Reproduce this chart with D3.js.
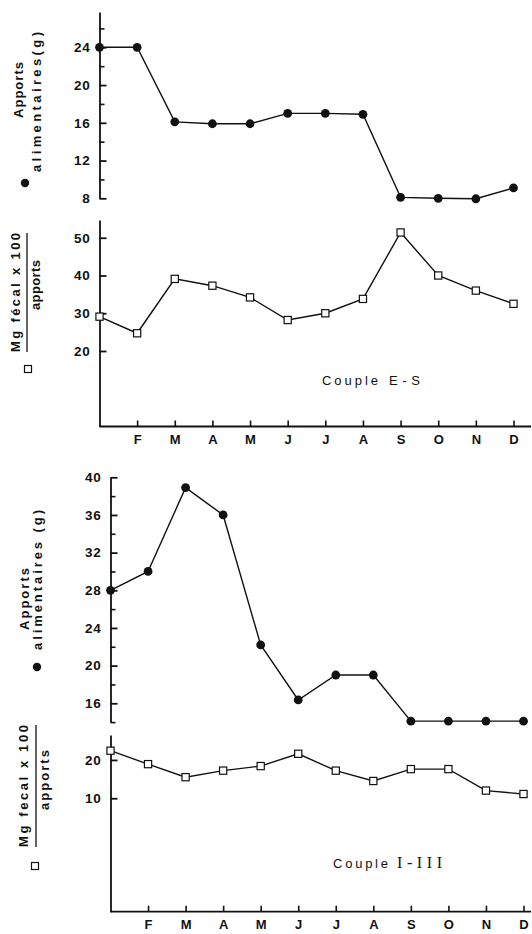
<!DOCTYPE html>
<html>
<head>
<meta charset="utf-8">
<script src="https://cdn.jsdelivr.net/npm/d3@7"></script>
<style>
  body { margin: 0; background: #fff; }
  svg { display: block; }
  text { font-family: "Liberation Sans", Arial, sans-serif; font-weight: bold; fill: #111; }
</style>
</head>
<body>
<svg id="chart" width="532" height="934"></svg>
<script>
const months = ["J", "F", "M", "A", "M", "J", "J", "A", "S", "O", "N", "D"];

// Couple E-S
const apportsES = [24, 24, 16.1, 15.9, 15.9, 17, 17, 16.9, 8.1, 8.0, 7.95, 9.1];
const mgES = [29.1, 24.7, 39.1, 37.3, 34.2, 28.2, 30, 33.8, 51.4, 40, 36, 32.5];

// Couple I-III
const apportsIII = [28.0, 30.0, 38.9, 36, 22.2, 16.35, 19.0, 19.0, 14.1, 14.1, 14.1, 14.1];
const mgIII = [22.4, 18.9, 15.5, 17.2, 18.4, 21.6, 17.2, 14.5, 17.6, 17.6, 12, 11.1];

const apportsTicksES = [8, 12, 16, 20, 24];
const apportsMinorES = [10, 14, 18, 22, 26];
const mgTicksES = [20, 30, 40, 50];
const apportsTicksIII = [16, 20, 24, 28, 32, 36, 40];
const apportsMinorIII = [14, 18, 22, 26, 30, 34, 38];
const mgTicksIII = [10, 20];

const svg = d3.select("#chart");

function yAxis(g, y, x0, major, minor) {
  g.append("g")
    .attr("transform", `translate(${x0},0)`)
    .call(d3.axisLeft(y).tickValues(major).tickSizeInner(-7).tickSizeOuter(0).tickPadding(9))
    .call((a) => a.selectAll("text").attr("font-size", 13.5).attr("font-family", null).attr("letter-spacing", 0.8))
    .call((a) => a.selectAll("path, line").attr("stroke", "#111").attr("stroke-width", 1.8));
  if (minor) {
    g.append("g")
      .attr("transform", `translate(${x0},0)`)
      .call(d3.axisLeft(y).tickValues(minor).tickSizeInner(-5).tickSizeOuter(0).tickFormat(""))
      .call((a) => a.select(".domain").remove())
      .call((a) => a.selectAll("line").attr("stroke", "#111").attr("stroke-width", 1.6));
  }
}

function series(g, x, y, values, shape) {
  g.append("path")
    .datum(values)
    .attr("fill", "none")
    .attr("stroke", "#111")
    .attr("stroke-width", 1.4)
    .attr("d", d3.line().x((d, i) => x(i)).y((d) => y(d)));

  if (shape === "circle") {
    g.selectAll(".dot")
      .data(values)
      .enter()
      .append("circle")
      .attr("cx", (d, i) => x(i))
      .attr("cy", (d) => y(d))
      .attr("r", 4.4)
      .attr("fill", "#111");
  } else {
    g.selectAll(".sq")
      .data(values)
      .enter()
      .append("rect")
      .attr("x", (d, i) => x(i) - 3.6)
      .attr("y", (d) => y(d) - 3.6)
      .attr("width", 7.2)
      .attr("height", 7.2)
      .attr("fill", "#fff")
      .attr("stroke", "#111")
      .attr("stroke-width", 1.2);
  }
}

function xAxis(g, x, yPos) {
  g.append("g")
    .attr("transform", `translate(0,${yPos})`)
    .call(d3.axisBottom(x).tickValues(d3.range(1, 12)).tickFormat((i) => months[i])
      .tickSizeInner(-6).tickSizeOuter(0).tickPadding(8))
    .call((a) => a.select(".domain").remove())
    .call((a) => a.selectAll("line").attr("stroke", "#111").attr("stroke-width", 1.6))
    .call((a) => a.selectAll("text").attr("font-size", 13).attr("font-family", null));
  g.append("line")
    .attr("x1", x(0)).attr("x2", 531)
    .attr("y1", yPos).attr("y2", yPos)
    .attr("stroke", "#111").attr("stroke-width", 1.8);
}

function vLabel(g, txt, x, y, len, size) {
  g.append("text")
    .attr("transform", `translate(${x},${y}) rotate(-90)`)
    .attr("text-anchor", "middle")
    .attr("font-size", size || 13)
    .attr("textLength", len)
    .attr("lengthAdjust", "spacing")
    .text(txt);
}

function drawCouple(cfg) {
  const g = svg.append("g");
  const x = d3.scaleLinear().domain([0, 11]).range([cfg.x0, cfg.x11]);
  const yA = d3.scaleLinear().domain(cfg.aDomain).range(cfg.aRange);
  const yM = d3.scaleLinear().domain(cfg.mDomain).range(cfg.mRange);

  yAxis(g, yA, cfg.x0, cfg.aTicks, cfg.aMinor);
  yAxis(g, yM, cfg.x0, cfg.mTicks, null);
  xAxis(g, x, cfg.mRange[0]);

  series(g, x, yA, cfg.apports, "circle");
  series(g, x, yM, cfg.mg, "square");

  // left titles
  const L = cfg.labels;
  vLabel(g, "Apports", L.ap[0], L.ap[1], L.ap[2]);
  vLabel(g, cfg.alimText, L.al[0], L.al[1], L.al[2]);
  g.append("circle").attr("cx", L.dot[0]).attr("cy", L.dot[1]).attr("r", 4.2).attr("fill", "#111");

  vLabel(g, cfg.mgText, L.mg[0], L.mg[1], L.mg[2]);
  g.append("line")
    .attr("x1", L.bar[0]).attr("x2", L.bar[0])
    .attr("y1", L.bar[1]).attr("y2", L.bar[2])
    .attr("stroke", "#111").attr("stroke-width", 1.3);
  vLabel(g, "apports", L.apb[0], L.apb[1], L.apb[2]);
  g.append("rect")
    .attr("x", L.sq[0] - 3.5).attr("y", L.sq[1] - 3.5)
    .attr("width", 7).attr("height", 7)
    .attr("fill", "#fff").attr("stroke", "#111").attr("stroke-width", 1.2);

  const t = g.append("text")
    .attr("x", cfg.title[0]).attr("y", cfg.title[1])
    .attr("font-size", 13)
    .style("font-weight", "normal");
  t.append("tspan").attr("textLength", cfg.title[2]).attr("lengthAdjust", "spacing").text("Couple");
  t.append("tspan")
    .attr("x", cfg.title[3])
    .style("font-family", cfg.titleFont)
    .attr("font-size", cfg.titleSize)
    .attr("textLength", cfg.title[4]).attr("lengthAdjust", "spacing")
    .text(cfg.titleName);
}

drawCouple({
  x0: 99.5, x11: 513.5,
  aDomain: [8, 27.74], aRange: [198.3, 12],
  mDomain: [0, 54.7], mRange: [426.5, 220],
  aTicks: apportsTicksES, aMinor: apportsMinorES,
  mTicks: mgTicksES,
  apports: apportsES, mg: mgES,
  alimText: "alimentaires(g)",
  mgText: "Mg fécal x 100",
  labels: {
    ap: [22.5, 90, 56], al: [40.5, 102, 140], dot: [25, 183],
    mg: [20, 292.5, 119], bar: [27, 233, 352], apb: [40, 285, 50], sq: [28, 369]
  },
  title: [322, 385, 56, 389, 31], titleName: "E-S", titleFont: "Liberation Sans", titleSize: 13
});

drawCouple({
  x0: 110.5, x11: 523.5,
  aDomain: [14, 40], aRange: [722.1, 477.3],
  mDomain: [-19.6, 26.5], mRange: [911.7, 735],
  aTicks: apportsTicksIII, aMinor: apportsMinorIII,
  mTicks: mgTicksIII,
  apports: apportsIII, mg: mgIII,
  alimText: "alimentaires (g)",
  mgText: "Mg fecal x 100",
  labels: {
    ap: [29, 599, 62], al: [41.5, 580, 140], dot: [37, 667],
    mg: [28, 786, 122], bar: [36, 725, 847], apb: [49, 780, 60], sq: [35, 866]
  },
  title: [333, 868, 55, 397, 45], titleName: "I-III", titleFont: "Liberation Serif", titleSize: 16
});
</script>
</body>
</html>
